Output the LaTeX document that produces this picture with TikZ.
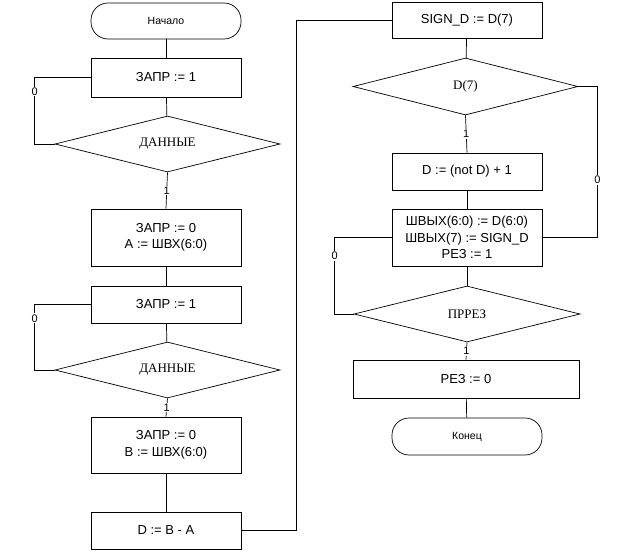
\documentclass[tikz,border=0pt]{standalone}
\usepackage{fontspec}
\setmainfont{Liberation Sans}
\newfontfamily\condfont{Liberation Serif}
\usetikzlibrary{shapes.geometric}

\begin{document}
\begin{tikzpicture}[x=1pt,y=-1pt,line width=0.7pt,
      box/.style={rectangle,draw,minimum width=150pt,inner sep=2pt,align=center,
        font=\fontsize{13}{16.5}\selectfont},
      term/.style={rectangle,draw,rounded corners=17pt,minimum width=150pt,
        minimum height=36pt,font=\fontsize{10.5}{12}\selectfont},
      cond/.style={diamond,draw,aspect=4,inner sep=0pt,minimum width=225pt,
        minimum height=56pt,font=\condfont\fontsize{13}{15}\selectfont},
      lbl/.style={fill=white,inner sep=1pt,font=\fontsize{11}{12}\selectfont}
    ]
      \useasboundingbox (0,0) rectangle (628,552);

      % left column
      \node[term] (start) at (166,21) {Начало};
      \node[box,minimum height=39pt] (z1) at (166,77.5) {ЗАПР := 1};
      \node[cond] (d1) at (167.5,144) {ДАННЫЕ};
      \node[box,minimum height=57pt] (a1) at (166,237.5) {ЗАПР := 0\\A := ШВХ(6:0)};
      \node[box,minimum height=37pt] (z2) at (166,304.5) {ЗАПР := 1};
      \node[cond] (d2) at (167.5,370) {ДАННЫЕ};
      \node[box,minimum height=56pt] (b1) at (166,445) {ЗАПР := 0\\B := ШВХ(6:0)};
      \node[box,minimum height=37pt] (dd) at (166,530.5) {D := B - A};

      % right column
      \node[box,minimum height=36pt] (sign) at (467,20) {SIGN\_D := D(7)};
      \node[cond,minimum height=57pt] (d7) at (465.5,86.5) {D(7)};
      \node[box,minimum height=37pt] (notd) at (467,171.5) {D := (not D) + 1};
      \node[box,minimum height=57pt] (out) at (467,237.5)
        {ШВЫХ(6:0) := D(6:0)\\ШВЫХ(7) := SIGN\_D\\РЕЗ := 1};
      \node[cond,minimum width=226pt] (prez) at (467,314) {ПРРЕЗ};
      \node[box,minimum width=226pt,minimum height=38pt] (rez0) at (466,379) {РЕЗ := 0};
      \node[term,minimum height=37pt] (finish) at (467,436.5) {Конец};

      % straight links
      \foreach \a/\b in {start/z1,z1/d1,a1/z2,z2/d2,b1/dd,sign/d7,notd/out,out/prez,rez0/finish}
        \draw (\a) -- (\b);
      \foreach \a/\b in {d1/a1,d2/b1,d7/notd,prez/rez0}
        \draw (\a.south) -- node[lbl]{1} (\b.north);

      % loops
      \draw (z1.west) -- ++(-56,0) coordinate (l1) -- node[lbl,pos=0.21]{0} (l1 |- d1.west) -- (d1.west);
      \draw (z2.west) -- ++(-56,0) coordinate (l2) -- node[lbl,pos=0.21]{0} (l2 |- d2.west) -- (d2.west);
      \draw (out.west) -- ++(-57,0) coordinate (l3) -- node[lbl,pos=0.24]{0} (l3 |- prez.west) -- (prez.west);
      \draw (d7.east) -- ++(19,0) coordinate (r2) -- node[lbl,pos=0.62]{0} (r2 |- out.east) -- (out.east);

      % jump to right column
      \draw (dd.east) -- ++(55,0) coordinate (r1) -- (r1 |- sign.west) -- (sign.west);
    \end{tikzpicture}
\end{document}
